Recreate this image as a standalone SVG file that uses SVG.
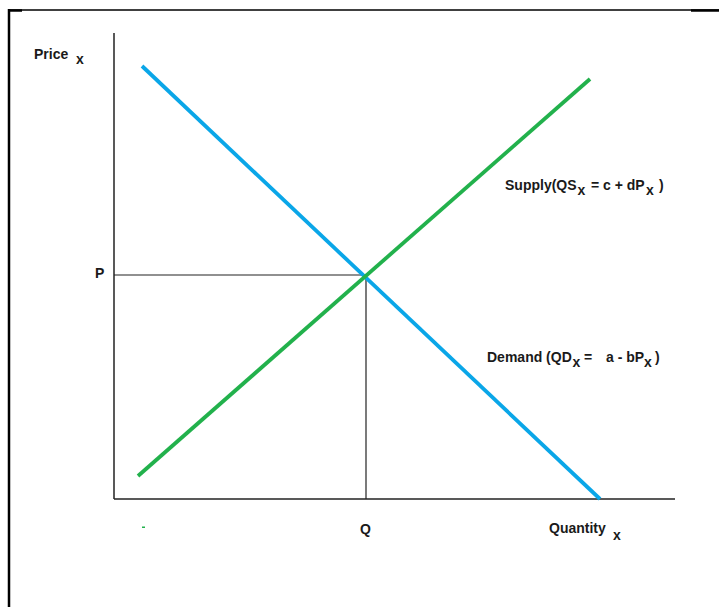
<svg xmlns="http://www.w3.org/2000/svg" width="719" height="607" viewBox="0 0 719 607">
<style>
.t{font-family:"Liberation Sans",Arial,sans-serif;font-size:14px;font-weight:bold;fill:#1a1a1a}
.ax{stroke:#222;stroke-width:1.5;fill:none}
.gd{stroke:#222;stroke-width:1.2;fill:none}
</style>
<rect width="719" height="607" fill="#fff"/>
<g id="frame">
<line x1="9" y1="10" x2="719" y2="10" stroke="#000" stroke-width="1.5"/>
<line x1="9" y1="9" x2="9" y2="607" stroke="#000" stroke-width="2.5"/>
<line x1="8" y1="10.5" x2="22" y2="10.5" stroke="#000" stroke-width="2.5"/>
<line x1="691" y1="10.5" x2="719" y2="10.5" stroke="#000" stroke-width="2.5"/>
</g>
<g id="axes">
<line class="ax" x1="114" y1="33" x2="114" y2="499"/>
<line class="ax" x1="114" y1="499" x2="675" y2="499"/>
</g>
<g id="connectors">
<line class="gd" x1="114" y1="275" x2="366" y2="275"/>
<line class="gd" x1="366" y1="275" x2="366" y2="499"/>
</g>
<g id="demand">
<line x1="142" y1="66" x2="600" y2="499" stroke="#0aa6e8" stroke-width="3.8"/>
</g>
<g id="supply">
<line x1="138" y1="476" x2="590" y2="79" stroke="#22b14c" stroke-width="3.8"/>
<rect x="142" y="526.5" width="3" height="1.5" fill="#22b14c"/>
</g>
<g id="labels">
<text class="t" x="34" y="59">Price</text>
<text class="t" x="76" y="64">x</text>
<text class="t" x="95" y="278">P</text>
<text class="t" x="360" y="534">Q</text>
<text class="t" x="549" y="533">Quantity</text>
<text class="t" x="613" y="540">x</text>
<text class="t" y="190"><tspan x="505">Supply(QS</tspan><tspan x="577.5" y="195">x</tspan><tspan x="591" y="190">= c + dP</tspan><tspan x="646" y="195">x</tspan><tspan x="659" y="190">)</tspan></text>
<text class="t" y="362"><tspan x="487">Demand (QD</tspan><tspan x="572.5" y="367">x</tspan><tspan x="584" y="362">=</tspan><tspan x="606" y="362">a - bP</tspan><tspan x="644" y="367">x</tspan><tspan x="655" y="362">)</tspan></text>
</g>
</svg>
